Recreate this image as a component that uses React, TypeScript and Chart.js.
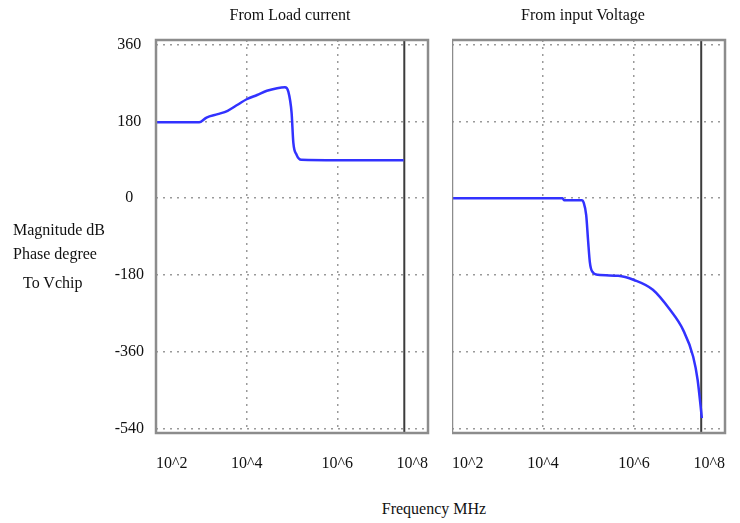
import React, { useEffect, useRef } from "react";
import { Chart, registerables } from "chart.js";

Chart.register(...registerables);

// ---- data ----
const tickValuesX = [1e2, 1e4, 1e6, 1e8];
const tickLabelsX = ["10^2", "10^4", "10^6", "10^8"];
const tickValuesY = [-540, -360, -180, 0, 180, 360];
const markerFreq = 3e7;

const loadFreq = [1e2, 9e2, 1.3e3, 2.3e3, 3.8e3, 6.3e3, 1e4, 1.7e4, 2.8e4, 4.7e4, 7e4, 8.3e4, 9.8e4, 1.07e5, 1.26e5, 1.6e5, 1e6, 2.9e7];
const loadPhase = [178, 178, 189, 197, 205, 219, 232, 242, 252, 258, 260, 250, 200, 130, 102, 90, 89, 89];

const inputFreq = [1e2, 2.7e4, 2.9e4, 7.2e4, 7.8e4, 8.9e4, 9.8e4, 1.07e5, 1.2e5, 1.6e5, 4.5e5, 1e6, 2.6e6, 6.2e6, 1.2e7, 2e7, 2.5e7, 3.1e7];
const inputPhase = [0, 0, -5, -5, -10, -40, -100, -150, -172, -180, -182, -192, -215, -262, -309, -372, -426, -516];

const FONT = "'Liberation Serif', 'Times New Roman', serif";
const Y_MIN = -551;
const Y_MAX = 371;

const framePlugin = {
  id: "frame",
  afterDraw(chart: any) {
    const { ctx, chartArea: a } = chart;
    ctx.save();
    ctx.strokeStyle = "#8c8c8c";
    ctx.lineWidth = 2.5;
    ctx.strokeRect(a.left, a.top, a.right - a.left, a.bottom - a.top);
    ctx.restore();
  },
};

function makeChart(canvas: HTMLCanvasElement, freq: number[], phase: number[], showY: boolean) {
  const points = freq.map((f, i) => ({ x: f, y: phase[i] }));
  return new Chart(canvas, {
    type: "line",
    data: {
      datasets: [
        {
          data: points,
          borderColor: "#3232ff",
          borderWidth: 2.5,
          pointRadius: 0,
          cubicInterpolationMode: "monotone",
        },
        {
          data: [
            { x: markerFreq, y: Y_MIN },
            { x: markerFreq, y: Y_MAX },
          ],
          borderColor: "#3c3c3c",
          borderWidth: 2,
          pointRadius: 0,
        },
      ],
    },
    options: {
      animation: false,
      responsive: false,
      layout: { padding: { top: 40, right: 7, left: 0, bottom: 0 } },
      plugins: { legend: { display: false }, tooltip: { enabled: false } },
      scales: {
        x: {
          type: "logarithmic",
          min: 1e2,
          max: 1e8,
          afterBuildTicks: (s: any) => {
            s.ticks = tickValuesX.map((v) => ({ value: v }));
          },
          afterFit: (s: any) => {
            s.height = 57;
            s.paddingLeft = 0;
            s.paddingRight = 0;
          },
          grid: {
            drawTicks: false,
            lineWidth: 1.5,
            color: (ctx: any) =>
              ctx.tick && (ctx.tick.value === 1e4 || ctx.tick.value === 1e6) ? "#9a9a9a" : "rgba(0,0,0,0)",
          },
          border: { display: false, dash: [2, 5] },
          ticks: {
            padding: 21,
            align: "inner",
            autoSkip: false,
            maxRotation: 0,
            color: "#111",
            font: { family: FONT, size: 16 },
            callback: (v: any) => {
              const i = tickValuesX.indexOf(Number(v));
              return i >= 0 ? tickLabelsX[i] : "";
            },
          },
        },
        y: {
          min: Y_MIN,
          max: Y_MAX,
          afterBuildTicks: (s: any) => {
            s.ticks = tickValuesY.map((v) => ({ value: v }));
          },
          afterFit: (s: any) => {
            s.width = showY ? 56 : 0;
            s.paddingTop = 0;
            s.paddingBottom = 0;
          },
          grid: { drawTicks: false, lineWidth: 1.5, color: "#9a9a9a" },
          border: { display: false, dash: [2, 5] },
          ticks: {
            display: showY,
            padding: 12,
            crossAlign: "center",
            color: "#111",
            font: { family: FONT, size: 16 },
            callback: (v: any) => String(v),
          },
        },
      },
    } as any,
    plugins: [framePlugin],
  });
}

const textStyle: React.CSSProperties = {
  position: "absolute",
  fontFamily: FONT,
  fontSize: 16,
  lineHeight: "16px",
  color: "#111",
  whiteSpace: "nowrap",
};

export default function App() {
  const leftRef = useRef<HTMLCanvasElement>(null);
  const rightRef = useRef<HTMLCanvasElement>(null);

  useEffect(() => {
    const c1 = makeChart(leftRef.current!, loadFreq, loadPhase, true);
    const c2 = makeChart(rightRef.current!, inputFreq, inputPhase, false);
    return () => {
      c1.destroy();
      c2.destroy();
    };
  }, []);

  return (
    <div style={{ position: "absolute", left: 0, top: 0, width: 740, height: 523, background: "#fff", overflow: "hidden" }}>
      <canvas ref={leftRef} width={335} height={490} style={{ position: "absolute", left: 100, top: 0, width: 335, height: 490 }} />
      <canvas ref={rightRef} width={280} height={490} style={{ position: "absolute", left: 452, top: 0, width: 280, height: 490 }} />
      <div style={{ ...textStyle, left: 290, top: 15, transform: "translate(-50%,-50%)" }}>From Load current</div>
      <div style={{ ...textStyle, left: 583, top: 15, transform: "translate(-50%,-50%)" }}>From input Voltage</div>
      <div style={{ ...textStyle, left: 13, top: 230, transform: "translateY(-50%)" }}>Magnitude dB</div>
      <div style={{ ...textStyle, left: 13, top: 254, transform: "translateY(-50%)" }}>Phase degree</div>
      <div style={{ ...textStyle, left: 23, top: 283, transform: "translateY(-50%)" }}>To Vchip</div>
      <div style={{ ...textStyle, left: 434, top: 509, transform: "translate(-50%,-50%)" }}>Frequency MHz</div>
    </div>
  );
}
